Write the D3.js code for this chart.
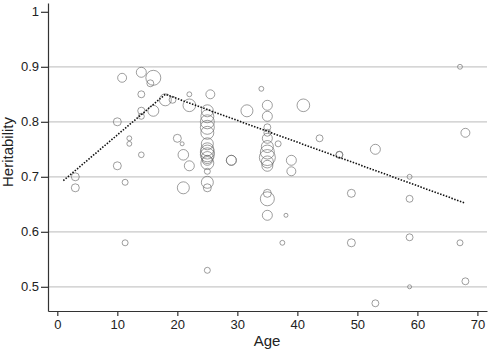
<!DOCTYPE html>
<html>
<head>
    <title>Heritability by Age</title>
    <style>
        body { margin: 0; background: #fff; }
        svg text { font-family: "Liberation Sans", Arial, sans-serif; fill: #222; }
    </style>
</head>
<body>
    <div id="chart"></div>

    <script src="https://d3js.org/d3.v7.min.js"></script>
    <script>
        // data: one entry per study
        var ages = [3, 3, 10, 10, 10.8, 11.3, 11.3, 12, 12, 14, 14, 14, 14, 14, 15.5, 16, 16, 18, 19.2,
            20, 20.8, 21, 21, 22, 22, 22, 25.5,
            25, 25, 25, 25, 25, 25, 25, 25, 25, 25, 25, 25, 25, 25, 25, 25,
            29, 29, 31.6, 34,
            35, 35, 35, 35, 35, 35, 35, 35, 35, 35, 35, 35, 35,
            36.8, 38.1, 37.5, 39, 39, 41, 43.7, 47, 47, 49, 49, 53, 53,
            58.7, 58.7, 58.7, 58.7, 67.1, 67.1, 68, 68];
        var heritability = [0.70, 0.68, 0.80, 0.72, 0.88, 0.69, 0.58, 0.77, 0.76, 0.89, 0.85, 0.82, 0.81, 0.74, 0.87, 0.88, 0.82, 0.84, 0.84,
            0.77, 0.76, 0.74, 0.68, 0.85, 0.83, 0.72, 0.85,
            0.82, 0.81, 0.80, 0.79, 0.78, 0.76, 0.75, 0.745, 0.74, 0.735, 0.73, 0.725, 0.71, 0.69, 0.68, 0.53,
            0.73, 0.73, 0.82, 0.86,
            0.83, 0.81, 0.79, 0.78, 0.77, 0.755, 0.745, 0.735, 0.727, 0.72, 0.67, 0.66, 0.63,
            0.76, 0.63, 0.58, 0.73, 0.71, 0.83, 0.77, 0.74, 0.74, 0.67, 0.58, 0.75, 0.47,
            0.70, 0.66, 0.59, 0.50, 0.90, 0.58, 0.78, 0.51];
        var weights = [16, 16, 16, 16, 20, 9, 9, 6, 6, 25, 12, 13, 9, 8, 12, 56, 30, 36, 12,
            16, 4, 28, 36, 6, 40, 25, 20,
            36, 42, 49, 49, 42, 36, 42, 49, 49, 36, 25, 42, 9, 36, 16, 9,
            25, 25, 36, 6,
            25, 25, 12, 12, 25, 36, 49, 64, 36, 30, 16, 49, 25,
            9, 4, 6, 25, 20, 40, 12, 12, 12, 16, 16, 25, 12,
            6, 12, 12, 4, 6, 9, 20, 12];

        // fitted piecewise trend
        var trendAges = [1, 18, 68];
        var trendValues = [0.693, 0.85, 0.652];

        var xTicks = [0, 10, 20, 30, 40, 50, 60, 70];
        var yTicks = [0.5, 0.6, 0.7, 0.8, 0.9, 1];
        var gridTicks = [0.5, 0.6, 0.7, 0.8, 0.9];

        var width = 490;
        var height = 351;

        var svg = d3.select("#chart")
            .append("svg")
            .attr("width", width)
            .attr("height", height);

        // scales
        var x = d3.scaleLinear().domain([-1.55, 71.6]).range([48, 487]);
        var y = d3.scaleLinear().domain([0.456, 1.016]).range([311, 3]);
        var r = d3.scaleSqrt().domain([0, 64]).range([0, 8]);

        // grid lines
        svg.append("g")
            .selectAll("line")
            .data(gridTicks)
            .enter()
            .append("line")
            .attr("x1", 48)
            .attr("x2", 487)
            .attr("y1", function (d) { return y(d); })
            .attr("y2", function (d) { return y(d); })
            .attr("stroke", "#c8c8c8")
            .attr("stroke-width", 1.3);

        // axes
        var xAxis = svg.append("g")
            .attr("transform", "translate(0,311)")
            .call(d3.axisBottom(x).tickValues(xTicks).tickFormat(d3.format("d")).tickSize(5).tickPadding(4).tickSizeOuter(0));
        var yAxis = svg.append("g")
            .attr("transform", "translate(48,0)")
            .call(d3.axisLeft(y).tickValues(yTicks).tickFormat(function (d) { return d === 1 ? "1" : d3.format(".1f")(d); }).tickSize(7).tickPadding(2).tickSizeOuter(0));

        [xAxis, yAxis].forEach(function (a) {
            a.selectAll("path, line").attr("stroke", "#333").attr("stroke-width", 1.2);
            a.selectAll("text").style("font-size", "13px").attr("fill", "#222");
        });

        // bubbles
        var points = ages.map(function (a, i) {
            return { age: a, h: heritability[i], w: weights[i] };
        });

        svg.append("g")
            .selectAll("circle")
            .data(points)
            .enter()
            .append("circle")
            .attr("cx", function (d) { return x(d.age); })
            .attr("cy", function (d) { return y(d.h); })
            .attr("r", function (d) { return r(d.w); })
            .attr("fill", "none")
            .attr("stroke", "#6a6a6a")
            .attr("stroke-opacity", 0.65)
            .attr("stroke-width", 1);

        // trend line
        var line = d3.line()
            .x(function (d) { return x(d[0]); })
            .y(function (d) { return y(d[1]); });

        svg.append("path")
            .datum(d3.zip(trendAges, trendValues))
            .attr("d", line)
            .attr("fill", "none")
            .attr("stroke", "#111")
            .attr("stroke-width", 1.6)
            .attr("stroke-dasharray", "1.5,1.5");

        // axis titles
        svg.append("text")
            .attr("x", 267)
            .attr("y", 346)
            .attr("text-anchor", "middle")
            .style("font-size", "15px")
            .text("Age");

        svg.append("text")
            .attr("transform", "translate(13,152) rotate(-90)")
            .attr("text-anchor", "middle")
            .style("font-size", "15px")
            .text("Heritability");
    </script>
</body>
</html>
